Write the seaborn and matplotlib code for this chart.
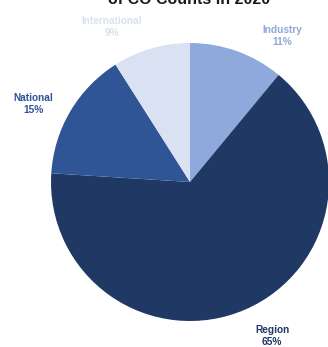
import matplotlib
matplotlib.use("Agg")
import matplotlib.pyplot as plt
import seaborn as sns

# Share of counts by category
categories = ["Industry", "Region", "National", "International"]
shares = [11, 65, 15, 9]
slice_colors = ["#8ea9db", "#203864", "#2f5597", "#d9e1f2"]

# label anchor points in figure pixels (x, y from top)
label_pos = {
    "Industry": (282, 36),
    "Region": (272, 336),
    "National": (33, 104),
    "International": (112, 27),
}

sns.set_theme(style="white")
plt.rcParams["font.family"] = ["Liberation Sans", "DejaVu Sans"]

W, H = 328, 347
fig = plt.figure(figsize=(W / 100, H / 100), dpi=100)

cx, cy, r = 190, 182, 139
ax = fig.add_axes([(cx - r) / W, (H - cy - r) / H, 2 * r / W, 2 * r / H])
ax.pie(shares, colors=slice_colors, startangle=90, counterclock=False,
       radius=1.0, wedgeprops=dict(linewidth=0))
ax.set_xlim(-1, 1)
ax.set_ylim(-1, 1)
ax.set_aspect("equal")
ax.axis("off")

for name, val, col in zip(categories, shares, slice_colors):
    x, y = label_pos[name]
    fig.text(x / W, 1 - y / H, f"{name}\n{val}%", ha="center", va="center",
             color=col, fontsize=7.3, fontweight="bold", linespacing=1.35)

fig.text(189 / W, 1 - 4 / H, "of CO Counts in 2020", ha="center", va="baseline",
         fontsize=11.5, fontweight="bold", color="#1a1a1a")

fig.savefig("out.png", dpi=100, facecolor="white")
